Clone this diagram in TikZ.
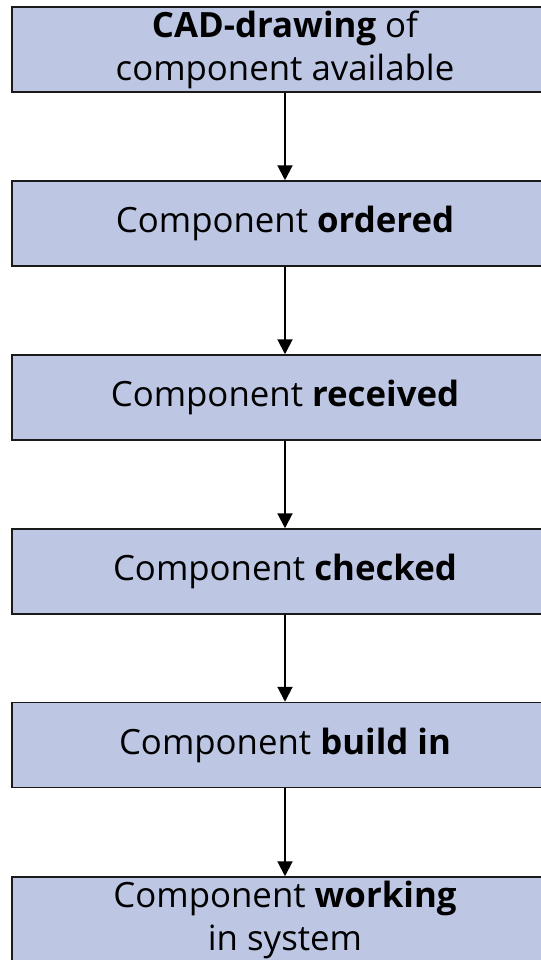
\documentclass[tikz,border=0pt]{standalone}
\usepackage{fontspec}
\setmainfont{Open Sans}
\usetikzlibrary{arrows.meta,positioning}
\definecolor{stagefill}{RGB}{189,199,228}
\definecolor{stageline}{RGB}{26,26,26}
\tikzstyle{stage} = [draw=stageline, line width=0.75pt, fill=stagefill, minimum width=273pt, minimum height=42.5pt, align=center, font=\fontsize{17.4pt}{21.5pt}\selectfont, inner sep=0pt]
\tikzstyle{arrow} = [line width=1pt,-{Triangle[width=7.5pt,length=7.5pt]}]

\begin{document}
\begin{tikzpicture}[x=0.5pt,y=-0.5pt]
\useasboundingbox (0,0) rectangle (541,960);
\node[stage] (cad) at (285,49.5) {\textbf{CAD-drawing} of\\component available};
\node[stage] (ordered) at (285,223.5) {Component \textbf{ordered}};
\node[stage] (received) at (285,397.5) {Component \textbf{received}};
\node[stage] (checked) at (285,571.5) {Component \textbf{checked}};
\node[stage] (buildin) at (285,745) {Component \textbf{build in}};
\node[stage] (working) at (285,919.5) {Component \textbf{working}\\in system};
\draw[arrow] (cad) -- (ordered);
\draw[arrow] (ordered) -- (received);
\draw[arrow] (received) -- (checked);
\draw[arrow] (checked) -- (buildin);
\draw[arrow] (buildin) -- (working);
\end{tikzpicture}
\end{document}
